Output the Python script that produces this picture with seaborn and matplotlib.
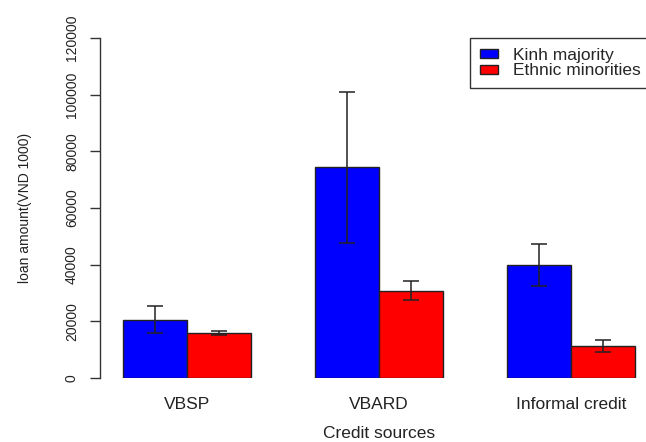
import matplotlib
matplotlib.use("Agg")
import matplotlib.pyplot as plt
import seaborn as sns
import pandas as pd
import numpy as np

sources = ["VBSP", "VBARD", "Informal credit"]
groups = ["Kinh majority", "Ethnic minorities"]
kinh = [20500, 74400, 40000]
kinh_lo = [15800, 47800, 32300]
kinh_hi = [25400, 100800, 47300]
ethnic = [16000, 30600, 11300]
ethnic_lo = [15200, 27400, 9200]
ethnic_hi = [16700, 34100, 13400]
yticks = [0, 20000, 40000, 60000, 80000, 100000, 120000]

sns.set_theme(style="white")
plt.rcParams["font.family"] = ["Liberation Sans", "DejaVu Sans"]

df = pd.DataFrame({
    "source": sources * 2,
    "group": [groups[0]] * 3 + [groups[1]] * 3,
    "amount": kinh + ethnic,
})

fig = plt.figure(figsize=(6.46, 4.42), dpi=100)
ax = fig.add_axes([100 / 646, 64 / 442, 546 / 646, 340 / 442])

sns.barplot(data=df, x="source", y="amount", hue="group", order=sources,
            hue_order=groups, palette={groups[0]: "#0000FF", groups[1]: "#FF0000"},
            width=2 / 3, gap=0, errorbar=None, edgecolor="#222222", linewidth=1.0,
            saturation=1, ax=ax)

vals = [(kinh, kinh_lo, kinh_hi), (ethnic, ethnic_lo, ethnic_hi)]
for cont, (v, lo, hi) in zip(ax.containers, vals):
    xs = [b.get_x() + b.get_width() / 2 for b in cont]
    v = np.array(v); lo = np.array(lo); hi = np.array(hi)
    ax.errorbar(xs, v, yerr=[v - lo, hi - v], fmt="none", ecolor="#222222",
                elinewidth=1.1, capsize=6, capthick=1.1, zorder=5)

ax.set_xlim(-0.453, 2.39)
ax.set_ylim(0, 120000)
for s in ["top", "right", "bottom"]:
    ax.spines[s].set_visible(False)
ax.spines["left"].set_bounds(0, 120000)
ax.spines["left"].set_color("#333333")
ax.spines["left"].set_linewidth(1.0)

ax.set_yticks(yticks)
ax.set_yticklabels([str(t) for t in yticks], rotation=90, va="center",
                   fontsize=10, color="#222222")
ax.tick_params(axis="y", direction="out", length=7.2, width=1.0,
               color="#333333", pad=8, left=True)
ax.tick_params(axis="x", length=0, pad=14, labelsize=12.5, labelcolor="#222222")

ax.set_xlabel("Credit sources", fontsize=12.5, color="#222222")
ax.xaxis.set_label_coords(0.511, -0.162)
ax.xaxis.label.set_va("center")
ax.set_ylabel("loan amount(VND 1000)", fontsize=10, color="#222222")
ax.yaxis.set_label_coords(-0.138, 0.5)
ax.yaxis.label.set_va("center")

leg = ax.legend(loc="upper left", bbox_to_anchor=(470 / 646, 1 - 38 / 442),
                bbox_transform=fig.transFigure, fontsize=12.5, frameon=True,
                fancybox=False, shadow=False, borderpad=0.55, labelspacing=0.05,
                borderaxespad=0, handlelength=1.05, handleheight=0.45,
                handletextpad=0.85, title=None)
leg.get_frame().set_edgecolor("#333333")
leg.get_frame().set_linewidth(1.0)
leg.get_frame().set_alpha(1)

fig.savefig("out.png", dpi=100)
